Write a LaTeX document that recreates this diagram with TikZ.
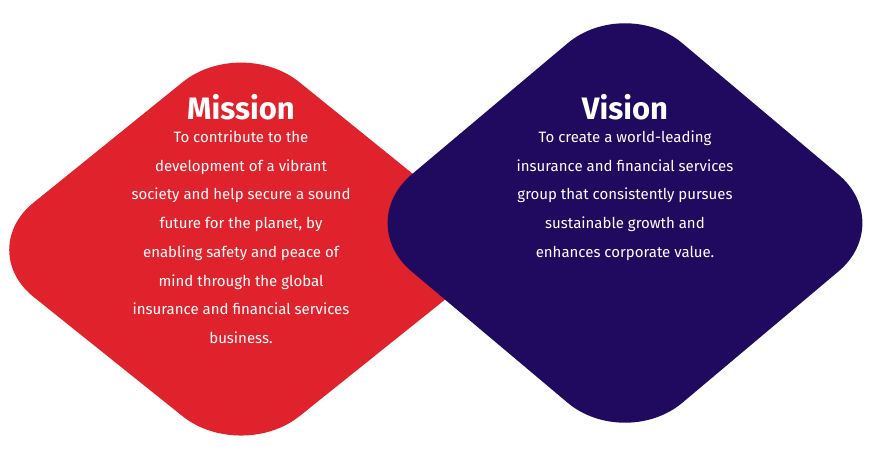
\documentclass[tikz,border=0pt]{standalone}
\usepackage{fontspec}
\setmainfont{Fira Sans}
\usetikzlibrary{positioning}
\definecolor{missionred}{HTML}{E0222C}
\definecolor{visionblue}{HTML}{1F0A60}
\begin{document}
\begin{tikzpicture}[x=1pt,y=1pt,
        shape_style/.style={rounded corners=75pt},
        title_style/.style={text=white,font=\bfseries\fontsize{31}{36}\selectfont},
        body_style/.style={text=white,align=center,font=\fontsize{15}{28.7}\selectfont}]
        \useasboundingbox[fill=white] (0,0) rectangle (871,450);

        % mission shape
        \fill [shape_style,missionred] (-25,200) -- (241,415) -- (507,200) -- (241,-13) -- cycle;
        % vision shape
        \fill [shape_style,visionblue] (354,227) -- (625,455) -- (896,227) -- (625,-1) -- cycle;

        \node [title_style](mtitle) at (241,343) {Mission};
        \node [body_style,below=4pt of mtitle](mbody) {To contribute to the\\development of a vibrant\\society and help secure a sound\\future for the planet, by\\enabling safety and peace of\\mind through the global\\insurance and financial services\\business.};

        \node [title_style](vtitle) at (625,343) {Vision};
        \node [body_style,below=4pt of vtitle](vbody) {To create a world-leading\\insurance and financial services\\group that consistently pursues\\sustainable growth and\\enhances corporate value.};
\end{tikzpicture}
\end{document}
